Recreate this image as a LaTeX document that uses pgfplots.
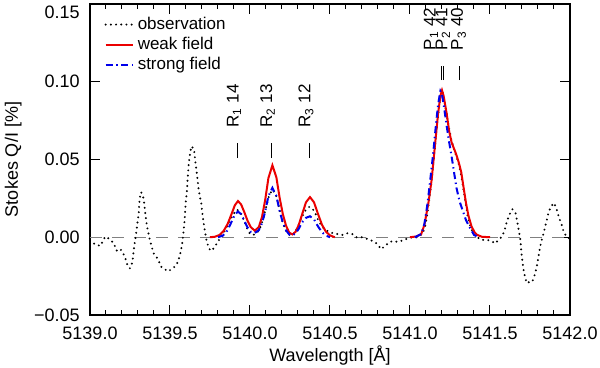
\documentclass[border=0pt]{standalone}
\usepackage{fontspec}
\setmainfont{Liberation Sans}
\usepackage{pgfplots}
\pgfplotsset{compat=1.18}
\usetikzlibrary{calc}

\definecolor{wfred}{RGB}{235,0,0}
\definecolor{sfblue}{RGB}{0,0,235}

\begin{document}
\fontsize{9}{10}\selectfont
\begin{tikzpicture}
\begin{axis}[
  name=ax,
  width=240pt, height=155.5pt, scale only axis,
  xmin=5139, xmax=5142, ymin=-0.05, ymax=0.15,
  xtick={5139,5139.5,5140,5140.5,5141,5141.5,5142},
  xticklabels={5139.0,5139.5,5140.0,5140.5,5141.0,5141.5,5142.0},
  minor x tick num=4,
  ytick={-0.05,0,0.05,0.1,0.15},
  yticklabels={−0.05,0.00,0.05,0.10,\raisebox{-7.2pt}[0pt][0pt]{0.15}},
  tick align=inside, major tick length=5pt, minor tick length=2.5pt,
  tick style={black, line width=0.5pt},
  axis line style={line width=0.6pt},
  xlabel={Wavelength [Å]}, ylabel={Stokes Q/I [\%]},
  ticklabel style={font=\fontsize{9}{10}\selectfont},
  xticklabel style={yshift=-3pt},
  yticklabel style={xshift=-2pt},
  label style={font=\fontsize{9}{10}\selectfont},
  xlabel style={yshift=3.5pt},
  legend style={draw=none, fill=none, at={(0.017,0.985)}, anchor=north west,
    font=\fontsize{8.5}{9.5}\selectfont, row sep=-1.5pt},
  legend cell align=left,
  legend image code/.code={\draw[#1] (0pt,0pt) -- (13.5pt,0pt);},
  clip=false]

\addplot[gray, line width=0.5pt, dash pattern=on 6pt off 5pt, forget plot]
  coordinates {(5139,0) (5142,0)};

\addplot[black, line width=1.1pt, line cap=round, dash pattern=on 0pt off 2.6pt]
  coordinates {
(5139.00,-0.002) (5139.03,-0.0045) (5139.065,-0.0056) (5139.095,0.0004) (5139.12,-0.001)
(5139.15,-0.004) (5139.165,-0.0086) (5139.19,-0.0075) (5139.21,-0.011) (5139.226,-0.015)
(5139.237,-0.019) (5139.25,-0.020) (5139.265,-0.016) (5139.275,-0.007) (5139.285,0.000)
(5139.295,0.0079) (5139.305,0.0158) (5139.31,0.025) (5139.32,0.029) (5139.335,0.025)
(5139.345,0.016) (5139.355,0.008) (5139.37,0.000) (5139.385,-0.006) (5139.40,-0.011)
(5139.425,-0.014) (5139.445,-0.019) (5139.467,-0.0205) (5139.487,-0.022) (5139.51,-0.0205)
(5139.54,-0.018) (5139.56,-0.0124) (5139.575,-0.005) (5139.585,0.0036) (5139.592,0.012)
(5139.598,0.022) (5139.606,0.030) (5139.612,0.040) (5139.618,0.0485) (5139.633,0.0585)
(5139.65,0.0566) (5139.66,0.0474) (5139.67,0.039) (5139.68,0.030) (5139.695,0.022)
(5139.705,0.013) (5139.717,0.0047) (5139.73,-0.003) (5139.745,-0.0075) (5139.76,-0.0088)
(5139.78,-0.006) (5139.80,-0.0028) (5139.82,0.0008) (5139.84,0.0036) (5139.86,0.0079)
(5139.88,0.012) (5139.90,0.0154) (5139.92,0.0178) (5139.945,0.015) (5139.965,0.0100)
(5139.985,0.0050) (5140.00,0.0020) (5140.02,0.0015) (5140.04,0.0025) (5140.06,0.0050)
(5140.08,0.0110) (5140.10,0.0190) (5140.12,0.0270) (5140.14,0.0305) (5140.16,0.0280)
(5140.18,0.0200) (5140.20,0.0110) (5140.22,0.0050) (5140.24,0.0020) (5140.26,0.0010)
(5140.28,0.0030) (5140.30,0.0070) (5140.32,0.0120) (5140.345,0.0170) (5140.37,0.0195)
(5140.39,0.0185) (5140.41,0.0150) (5140.43,0.0100) (5140.46,0.0058) (5140.49,0.0036)
(5140.52,0.0026) (5140.55,0.0020) (5140.58,0.0015) (5140.61,0.0026) (5140.64,0.0020)
(5140.665,0.0000) (5140.70,0.0000) (5140.72,-0.0006) (5140.75,-0.0017) (5140.78,-0.0030)
(5140.80,-0.0050) (5140.82,-0.0077) (5140.85,-0.0050) (5140.875,-0.0030) (5140.895,-0.0025)
(5140.925,-0.0030) (5140.955,-0.0020) (5140.99,-0.0006) (5141.02,0.0000) (5141.05,0.0000)
(5141.08,0.0026) (5141.095,0.0070) (5141.11,0.016) (5141.13,0.032) (5141.15,0.052)
(5141.17,0.074) (5141.19,0.090) (5141.205,0.093) (5141.22,0.085) (5141.24,0.072)
(5141.26,0.062) (5141.28,0.055) (5141.30,0.049) (5141.32,0.040) (5141.34,0.027)
(5141.36,0.014) (5141.38,0.006) (5141.40,0.002) (5141.42,0.000) (5141.45,-0.0017)
(5141.48,-0.0017) (5141.51,-0.0024) (5141.53,-0.004) (5141.56,-0.0013) (5141.58,0.0015)
(5141.595,0.0058) (5141.605,0.010) (5141.62,0.0143) (5141.64,0.018) (5141.66,0.0154)
(5141.67,0.010) (5141.68,0.0047) (5141.69,-0.0017) (5141.695,-0.0081) (5141.70,-0.0135)
(5141.71,-0.021) (5141.72,-0.026) (5141.73,-0.0295) (5141.75,-0.0285) (5141.765,-0.0285)
(5141.78,-0.024) (5141.79,-0.020) (5141.80,-0.0145) (5141.81,-0.008) (5141.82,-0.003)
(5141.835,0.0026) (5141.85,0.009) (5141.865,0.0154) (5141.88,0.0196) (5141.90,0.022)
(5141.915,0.0186) (5141.93,0.013) (5141.945,0.009) (5141.96,0.0036) (5141.98,0.000)
(5141.995,-0.0006)};
\addlegendentry{observation}

\addplot[wfred, line width=1pt] coordinates {
(5139.75,0.0000) (5139.78,0.0003) (5139.81,0.0015) (5139.835,0.0040) (5139.86,0.0085)
(5139.885,0.0150) (5139.905,0.0205) (5139.925,0.0233) (5139.945,0.0210) (5139.965,0.0160)
(5139.985,0.0105) (5140.005,0.0065) (5140.03,0.0042) (5140.055,0.0065) (5140.075,0.0130)
(5140.095,0.0240) (5140.115,0.0380) (5140.14,0.0463) (5140.165,0.0385) (5140.185,0.0255)
(5140.205,0.0150) (5140.225,0.0075) (5140.245,0.0030) (5140.265,0.0018) (5140.285,0.0035)
(5140.305,0.0080) (5140.325,0.0145) (5140.35,0.0225) (5140.375,0.0258) (5140.40,0.0225)
(5140.425,0.0150) (5140.45,0.0080) (5140.475,0.0035) (5140.50,0.0012) (5140.53,0.0000)};
\addlegendentry{weak field}

\addplot[sfblue, line width=1pt, dash pattern=on 3.5pt off 1.8pt on 0.7pt off 1.8pt] coordinates {
(5139.80,0.0000) (5139.83,0.0010) (5139.86,0.0045) (5139.885,0.0100) (5139.905,0.0145)
(5139.925,0.0165) (5139.945,0.0148) (5139.965,0.0105) (5139.985,0.0062) (5140.005,0.0035)
(5140.03,0.0028) (5140.055,0.0045) (5140.075,0.0090) (5140.095,0.0165) (5140.115,0.0265)
(5140.14,0.0318) (5140.165,0.0265) (5140.185,0.0170) (5140.205,0.0095) (5140.225,0.0045)
(5140.245,0.0018) (5140.265,0.0012) (5140.285,0.0025) (5140.305,0.0055) (5140.325,0.0095)
(5140.35,0.0125) (5140.375,0.0135) (5140.40,0.0115) (5140.425,0.0070) (5140.45,0.0032)
(5140.475,0.0010) (5140.50,0.0000)};
\addlegendentry{strong field}

\addplot[wfred, line width=1pt, forget plot] coordinates {
(5141.00,0.0000) (5141.04,0.0005) (5141.07,0.0020) (5141.09,0.0079) (5141.115,0.0220)
(5141.135,0.0367) (5141.155,0.0580) (5141.175,0.0790) (5141.19,0.0910) (5141.20,0.0945)
(5141.21,0.0910) (5141.23,0.0790) (5141.245,0.0680) (5141.26,0.0610) (5141.275,0.0570)
(5141.29,0.0530) (5141.305,0.0480) (5141.32,0.0420) (5141.335,0.0320) (5141.35,0.0220)
(5141.365,0.0140) (5141.385,0.0068) (5141.405,0.0030) (5141.42,0.0015) (5141.45,0.0003)
(5141.50,0.0000)};

\addplot[sfblue, line width=1pt, dash pattern=on 3.5pt off 1.8pt on 0.7pt off 1.8pt, forget plot] coordinates {
(5141.03,0.0000) (5141.07,0.0020) (5141.09,0.0085) (5141.11,0.0220) (5141.13,0.0400)
(5141.145,0.0540) (5141.16,0.0700) (5141.175,0.0850) (5141.19,0.0940) (5141.20,0.0920)
(5141.215,0.0820) (5141.23,0.0710) (5141.245,0.0610) (5141.26,0.0520) (5141.275,0.0420)
(5141.29,0.0320) (5141.31,0.0230) (5141.33,0.0170) (5141.35,0.0110) (5141.375,0.0060)
(5141.40,0.0015) (5141.43,0.0000)};

% line identifications
\draw[line width=0.5pt] (axis cs:5139.925,0.0508) -- (axis cs:5139.925,0.0604);
\draw[line width=0.5pt] (axis cs:5140.1375,0.0508) -- (axis cs:5140.1375,0.0604);
\draw[line width=0.5pt] (axis cs:5140.37,0.0508) -- (axis cs:5140.37,0.0604);
\draw[line width=0.5pt] (axis cs:5141.194,0.101) -- (axis cs:5141.194,0.110);
\draw[line width=0.5pt] (axis cs:5141.209,0.101) -- (axis cs:5141.209,0.110);
\draw[line width=0.5pt] (axis cs:5141.308,0.101) -- (axis cs:5141.308,0.110);
\begin{scope}[every node/.style={rotate=90, anchor=west, inner sep=0pt, font=\fontsize{8.5}{9.5}\selectfont}]
\node at (axis cs:5139.90,0.070) {R\textsubscript{1} 14};
\node at (axis cs:5140.11,0.070) {R\textsubscript{2} 13};
\node at (axis cs:5140.35,0.070) {R\textsubscript{3} 12};
\node at (axis cs:5141.131,0.120) {P\textsubscript{1} 42};
\node at (axis cs:5141.206,0.120) {P\textsubscript{2} 41};
\node at (axis cs:5141.303,0.120) {P\textsubscript{3} 40};
\end{scope}
\end{axis}
\pgfresetboundingbox
\path ($(ax.south west)+(-45pt,-26.5pt)$) rectangle ($(ax.north east)+(15pt,2pt)$);
\end{tikzpicture}
\end{document}
